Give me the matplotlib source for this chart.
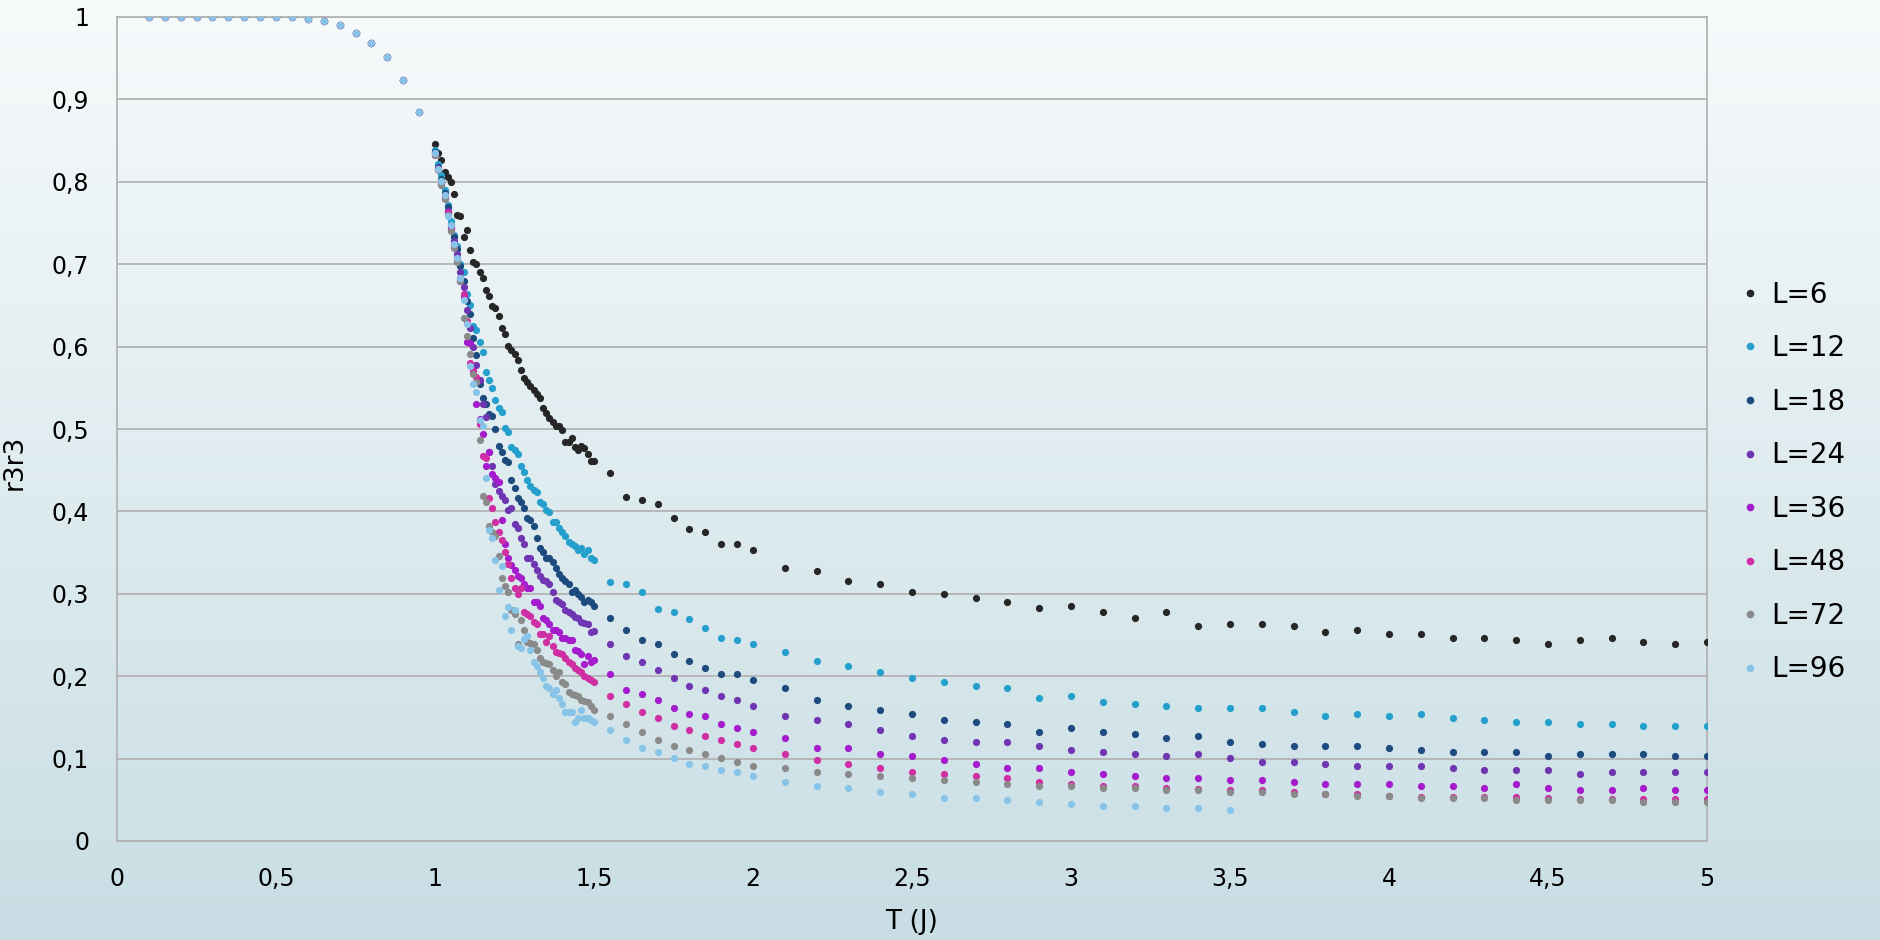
import numpy as np
import matplotlib
matplotlib.use("Agg")
import matplotlib.pyplot as plt
from matplotlib.lines import Line2D
from matplotlib.colors import LinearSegmentedColormap

plt.rcParams['font.family'] = ['DejaVu Sans']

# ---------------- data ----------------
labels = ["L=6", "L=12", "L=18", "L=24", "L=36", "L=48", "L=72", "L=96"]
colors = ["#262626", "#259fcc", "#1e4b7d", "#7035b0", "#a41ccc", "#cf2fa2", "#8a8a8a", "#88c4e8"]

T_low = [0.10, 0.15, 0.20, 0.25, 0.30, 0.35, 0.40, 0.45, 0.50, 0.55,
         0.60, 0.65, 0.70, 0.75, 0.80, 0.85, 0.90, 0.95]
T_crit = [1.00, 1.01, 1.02, 1.03, 1.04, 1.05, 1.06, 1.07, 1.08, 1.09,
          1.10, 1.11, 1.12, 1.13, 1.14, 1.15, 1.16, 1.17, 1.18, 1.19,
          1.20, 1.21, 1.22, 1.23, 1.24, 1.25, 1.26, 1.27, 1.28, 1.29,
          1.30, 1.31, 1.32, 1.33, 1.34, 1.35, 1.36, 1.37, 1.38, 1.39,
          1.40, 1.41, 1.42, 1.43, 1.44, 1.45, 1.46, 1.47, 1.48, 1.49,
          1.50]
T_tail = [1.55, 1.60, 1.65, 1.70, 1.75, 1.80, 1.85, 1.90, 1.95, 2.00,
          2.1, 2.2, 2.3, 2.4, 2.5, 2.6, 2.7, 2.8, 2.9, 3.0,
          3.1, 3.2, 3.3, 3.4, 3.5, 3.6, 3.7, 3.8, 3.9, 4.0,
          4.1, 4.2, 4.3, 4.4, 4.5, 4.6, 4.7, 4.8, 4.9, 5.0]

r_low = [1.0, 1.0, 1.0, 1.0, 1.0, 1.0, 1.0, 1.0, 1.0, 1.0,
         0.998, 0.9955, 0.990, 0.981, 0.969, 0.951, 0.924, 0.885]

L6_crit = [0.846, 0.835, 0.826, 0.812, 0.806, 0.800, 0.785, 0.760, 0.758, 0.733,
           0.742, 0.717, 0.703, 0.700, 0.690, 0.683, 0.669, 0.661, 0.649, 0.647,
           0.637, 0.623, 0.615, 0.601, 0.596, 0.591, 0.584, 0.572, 0.562, 0.557,
           0.552, 0.547, 0.542, 0.538, 0.526, 0.520, 0.513, 0.509, 0.504, 0.504,
           0.499, 0.484, 0.484, 0.489, 0.478, 0.474, 0.479, 0.477, 0.470, 0.461,
           0.461]
L12_crit = [0.838, 0.822, 0.808, 0.790, 0.772, 0.752, 0.735, 0.722, 0.700, 0.690,
            0.664, 0.650, 0.625, 0.620, 0.606, 0.593, 0.569, 0.560, 0.550, 0.535,
            0.526, 0.521, 0.501, 0.496, 0.478, 0.4745, 0.470, 0.455, 0.448, 0.438,
            0.431, 0.426, 0.4235, 0.411, 0.409, 0.402, 0.399, 0.387, 0.387, 0.380,
            0.375, 0.370, 0.363, 0.360, 0.358, 0.353, 0.356, 0.348, 0.353, 0.343,
            0.341]
L18_crit = [0.836, 0.818, 0.803, 0.787, 0.770, 0.748, 0.733, 0.718, 0.698, 0.680,
            0.655, 0.640, 0.610, 0.590, 0.555, 0.538, 0.530, 0.518, 0.516, 0.500,
            0.479, 0.472, 0.462, 0.460, 0.438, 0.428, 0.416, 0.411, 0.404, 0.392,
            0.390, 0.382, 0.368, 0.356, 0.351, 0.343, 0.343, 0.339, 0.331, 0.324,
            0.319, 0.315, 0.312, 0.302, 0.305, 0.300, 0.296, 0.290, 0.292, 0.290,
            0.285]
L24_crit = [0.835, 0.817, 0.800, 0.784, 0.765, 0.745, 0.728, 0.712, 0.690, 0.672,
            0.645, 0.622, 0.600, 0.578, 0.560, 0.530, 0.515, 0.472, 0.455, 0.433,
            0.425, 0.419, 0.414, 0.402, 0.404, 0.385, 0.380, 0.368, 0.360, 0.343,
            0.343, 0.336, 0.329, 0.322, 0.317, 0.315, 0.312, 0.302, 0.293, 0.290,
            0.288, 0.280, 0.278, 0.276, 0.272, 0.271, 0.266, 0.265, 0.263, 0.254,
            0.255]
L36_crit = [0.834, 0.816, 0.798, 0.782, 0.763, 0.743, 0.725, 0.708, 0.680, 0.660,
            0.606, 0.604, 0.570, 0.530, 0.512, 0.494, 0.455, 0.472, 0.445, 0.440,
            0.436, 0.390, 0.360, 0.343, 0.335, 0.329, 0.322, 0.319, 0.312, 0.307,
            0.307, 0.290, 0.290, 0.285, 0.271, 0.268, 0.263, 0.256, 0.256, 0.254,
            0.246, 0.246, 0.244, 0.244, 0.232, 0.230, 0.227, 0.215, 0.225, 0.217,
            0.220]
L48_crit = [0.833, 0.815, 0.797, 0.780, 0.762, 0.742, 0.722, 0.705, 0.683, 0.664,
            0.631, 0.580, 0.570, 0.563, 0.506, 0.467, 0.465, 0.416, 0.404, 0.387,
            0.375, 0.365, 0.351, 0.336, 0.319, 0.307, 0.300, 0.307, 0.278, 0.276,
            0.273, 0.266, 0.263, 0.251, 0.251, 0.242, 0.249, 0.237, 0.229, 0.228,
            0.227, 0.222, 0.217, 0.215, 0.210, 0.208, 0.205, 0.200, 0.198, 0.195,
            0.193]
L72_crit = [0.832, 0.814, 0.796, 0.779, 0.760, 0.740, 0.720, 0.703, 0.680, 0.635,
            0.613, 0.591, 0.567, 0.557, 0.487, 0.419, 0.411, 0.382, 0.375, 0.370,
            0.346, 0.319, 0.310, 0.302, 0.280, 0.276, 0.239, 0.268, 0.256, 0.242,
            0.240, 0.239, 0.232, 0.222, 0.217, 0.216, 0.215, 0.208, 0.200, 0.205,
            0.193, 0.191, 0.181, 0.178, 0.177, 0.176, 0.171, 0.170, 0.169, 0.164,
            0.159]
L96_crit = [0.835, 0.816, 0.801, 0.784, 0.758, 0.748, 0.725, 0.707, 0.683, 0.657,
            0.627, 0.577, 0.555, 0.545, 0.511, 0.504, 0.441, 0.377, 0.368, 0.341,
            0.305, 0.334, 0.273, 0.284, 0.256, 0.280, 0.237, 0.234, 0.245, 0.249,
            0.232, 0.217, 0.212, 0.205, 0.198, 0.188, 0.186, 0.178, 0.183, 0.174,
            0.166, 0.157, 0.157, 0.157, 0.144, 0.149, 0.159, 0.149, 0.149, 0.147,
            0.144]

L6_tail = [0.447, 0.418, 0.4135, 0.409, 0.392, 0.379, 0.375, 0.360, 0.360, 0.353,
           0.331, 0.328, 0.316, 0.3115, 0.302, 0.2994, 0.2945, 0.290, 0.2824, 0.2848,
           0.2775, 0.2703, 0.2775, 0.2606, 0.263, 0.263, 0.2606, 0.2533, 0.2557, 0.2509,
           0.2509, 0.246, 0.246, 0.2436, 0.2387, 0.2436, 0.246, 0.2412, 0.2387, 0.2412]
L12_tail = [0.314, 0.3115, 0.302, 0.282, 0.2775, 0.270, 0.258, 0.246, 0.2436, 0.2387,
            0.229, 0.219, 0.212, 0.2047, 0.1974, 0.1926, 0.1877, 0.1853, 0.1732, 0.1756,
            0.1683, 0.1659, 0.1635, 0.161, 0.161, 0.161, 0.1562, 0.1513, 0.1538, 0.1513,
            0.1538, 0.1489, 0.1465, 0.144, 0.144, 0.1416, 0.1416, 0.1392, 0.1392, 0.1392]
L18_tail = [0.2703, 0.2557, 0.2436, 0.2387, 0.2266, 0.219, 0.2096, 0.2023, 0.2023, 0.195,
            0.1853, 0.1707, 0.1635, 0.1586, 0.1538, 0.1465, 0.144, 0.1416, 0.132, 0.1368,
            0.132, 0.1295, 0.1246, 0.127, 0.1198, 0.1174, 0.1149, 0.1149, 0.1149, 0.1125,
            0.1101, 0.1077, 0.1077, 0.1077, 0.1028, 0.1052, 0.1052, 0.1052, 0.1028, 0.1028]
L24_tail = [0.2387, 0.2242, 0.2169, 0.2072, 0.1974, 0.1877, 0.1829, 0.1756, 0.1707, 0.1635,
            0.1513, 0.1465, 0.1417, 0.1343, 0.127, 0.1222, 0.1198, 0.1198, 0.1149, 0.1101,
            0.1077, 0.1052, 0.1028, 0.1052, 0.1004, 0.0955, 0.0955, 0.0931, 0.0907, 0.0907,
            0.0907, 0.0882, 0.0858, 0.0858, 0.0858, 0.081, 0.0834, 0.0834, 0.0834, 0.0834]
L36_tail = [0.2023, 0.1829, 0.178, 0.1707, 0.161, 0.1538, 0.1513, 0.1417, 0.1368, 0.132,
            0.1246, 0.1125, 0.1125, 0.1052, 0.1028, 0.098, 0.0931, 0.0882, 0.0882, 0.0834,
            0.081, 0.0785, 0.0761, 0.0761, 0.0737, 0.0737, 0.0712, 0.0688, 0.0688, 0.0688,
            0.0664, 0.0664, 0.064, 0.0688, 0.064, 0.0615, 0.0615, 0.064, 0.0615, 0.0615]
L48_tail = [0.1756, 0.1659, 0.1562, 0.1489, 0.1392, 0.1343, 0.127, 0.1222, 0.1174, 0.1125,
            0.1052, 0.098, 0.0931, 0.0882, 0.0834, 0.081, 0.0785, 0.0761, 0.0712, 0.0688,
            0.0664, 0.0664, 0.064, 0.063, 0.0615, 0.0615, 0.059, 0.0567, 0.0567, 0.055,
            0.054, 0.054, 0.053, 0.053, 0.052, 0.051, 0.051, 0.0506, 0.0506, 0.0506]
L72_tail = [0.1513, 0.1416, 0.132, 0.1222, 0.1149, 0.110, 0.1052, 0.1004, 0.0955, 0.0907,
            0.0882, 0.0834, 0.081, 0.0785, 0.0761, 0.0737, 0.0712, 0.0688, 0.0664, 0.0664,
            0.064, 0.064, 0.0615, 0.0615, 0.059, 0.059, 0.0567, 0.0567, 0.0543, 0.0543,
            0.0518, 0.0518, 0.0518, 0.0494, 0.0494, 0.0494, 0.0494, 0.047, 0.047, 0.047]
L96_tail = [0.1343, 0.1222, 0.113, 0.1077, 0.1004, 0.0931, 0.0907, 0.0858, 0.0834, 0.0785,
            0.0712, 0.0664, 0.064, 0.0591, 0.0567, 0.0518, 0.0518, 0.0494, 0.047, 0.0445,
            0.0421, 0.0421, 0.0397, 0.0397, 0.0373]

crit_sets = [L6_crit, L12_crit, L18_crit, L24_crit, L36_crit, L48_crit, L72_crit, L96_crit]
tail_sets = [L6_tail, L12_tail, L18_tail, L24_tail, L36_tail, L48_tail, L72_tail, L96_tail]

x_ticks = [0, 0.5, 1, 1.5, 2, 2.5, 3, 3.5, 4, 4.5, 5]
x_ticklabels = ["0", "0,5", "1", "1,5", "2", "2,5", "3", "3,5", "4", "4,5", "5"]
y_ticks = [0, 0.1, 0.2, 0.3, 0.4, 0.5, 0.6, 0.7, 0.8, 0.9, 1]
y_ticklabels = ["0", "0,1", "0,2", "0,3", "0,4", "0,5", "0,6", "0,7", "0,8", "0,9", "1"]

# ---------------- figure ----------------
W, H = 1881, 940
fig = plt.figure(figsize=(W / 100, H / 100), dpi=100)

# background gradient
bg = fig.add_axes([0, 0, 1, 1], zorder=-10)
cmap = LinearSegmentedColormap.from_list("bg", ["#f7fafb", "#c8dee4"])
grad = np.linspace(0, 1, 256).reshape(-1, 1)
bg.imshow(grad, aspect="auto", cmap=cmap, extent=[0, 1, 0, 1], origin="upper")
bg.set_axis_off()

ax = fig.add_axes([117 / W, 1 - 841 / H, (1707 - 117) / W, (841 - 17) / H])
ax.patch.set_alpha(0)

grid_col = "#b3b3b3"
for i, lab in enumerate(labels):
    xs = list(T_low) + list(T_crit) + list(T_tail[:len(tail_sets[i])])
    ys = list(r_low) + list(crit_sets[i]) + list(tail_sets[i])
    ax.plot(xs, ys, linestyle="none", marker="o", markersize=5.2,
            markeredgewidth=0, color=colors[i], label=lab, zorder=3 + i)

ax.set_xlim(0, 5)
ax.set_ylim(0, 1)
ax.set_xticks(x_ticks)
ax.set_xticklabels(x_ticklabels)
ax.set_yticks(y_ticks)
ax.set_yticklabels(y_ticklabels)
ax.tick_params(axis="both", length=0, labelsize=17, colors="black")
ax.tick_params(axis="x", pad=19)
ax.tick_params(axis="y", pad=20)
ax.grid(axis="y", color=grid_col, linewidth=1.3, zorder=1)
for s in ax.spines.values():
    s.set_color(grid_col)
    s.set_linewidth(1.3)

ax.set_xlabel("T (J)", fontsize=19)
ax.xaxis.set_label_coords(0.5, -0.083)
ax.set_ylabel("r3r3", fontsize=19)
ax.yaxis.set_label_coords(-0.056, 0.46)

handles = [Line2D([], [], linestyle="none", marker="o", markersize=5.5,
                  markeredgewidth=0, color=c) for c in colors]
fig.legend(handles, labels, loc="center left", bbox_to_anchor=(1728 / W, 1 - 482 / H),
           frameon=False, fontsize=20, handlelength=0.6, handletextpad=0.45,
           labelspacing=0.92, borderpad=0)

fig.savefig("out.png", dpi=100)
